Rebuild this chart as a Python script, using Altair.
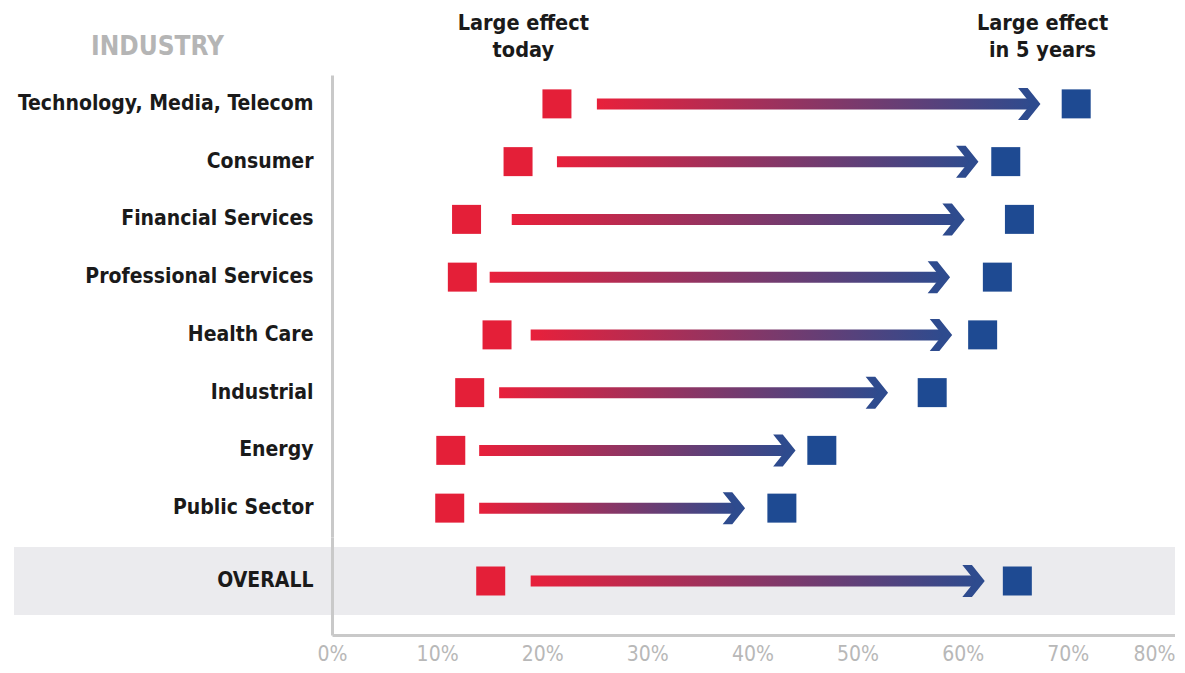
import altair as alt
import pandas as pd

# ---------------- data ----------------
industries = ["Technology, Media, Telecom", "Consumer", "Financial Services",
              "Professional Services", "Health Care", "Industrial", "Energy",
              "Public Sector"]
effect_today = [21.4, 17.7, 12.8, 12.4, 15.7, 13.1, 11.3, 11.2]
effect_5yrs = [70.8, 64.1, 65.4, 63.3, 61.9, 57.1, 46.6, 42.8]
arrow_from = [25.2, 21.4, 17.1, 15.0, 18.9, 15.9, 14.0, 14.0]
arrow_to = [67.4, 61.5, 60.2, 58.8, 59.0, 52.9, 44.1, 39.3]

overall_label = ["OVERALL"]
overall_today = [15.1]
overall_5yrs = [65.2]
overall_from = [18.9]
overall_to = [62.1]

header_text = ["Large effect\ntoday", "Large effect\nin 5 years"]
header_x = [18.2, 67.6]

x_ticks = [0, 10, 20, 30, 40, 50, 60, 70, 80]

# ---------------- styling ----------------
FONT = "Liberation Sans Narrow, DejaVu Sans Condensed, Arial Narrow, sans-serif"
RED = "#e41f38"
BLUE = "#1e4a92"
NAVY = "#2e4b8e"
GRID = "#c9c9c9"
W = 843
H_TOP = 462
H_BOT = 98
CHEVRON = "M0,0 L-0.8,-1 L-1.4,-1 L-0.6,0 L-1.4,1 L-0.8,1 Z"

gradient = alt.LinearGradient(
    gradient="linear",
    stops=[alt.GradientStop(color="#e8203b", offset=0),
           alt.GradientStop(color=NAVY, offset=1)],
    x1=0, x2=1, y1=0, y2=0,
)

x_scale = alt.Scale(domain=[0, 80.2], nice=False, zero=False)

label_axis_common = dict(
    labelFont=FONT, labelFontSize=21, labelFontWeight="bold", labelColor="#1a1a1a",
    labelPadding=19, labelLimit=400, ticks=False, domainColor=GRID, domainWidth=3,
    grid=False, zindex=1,
)


def arrow_layers(df, y, xaxis):
    shaft = alt.Chart(df).mark_bar(height=11, fill=gradient, x2Offset=-8).encode(
        x=alt.X("a0:Q", scale=x_scale, axis=xaxis), x2="a1:Q", y=y)
    head = alt.Chart(df).mark_point(shape=CHEVRON, filled=True, fill=NAVY, size=1024,
                                    opacity=1, strokeWidth=0).encode(
        x=alt.X("a1:Q", scale=x_scale, axis=xaxis), y=y)
    sq_today = alt.Chart(df).mark_square(size=841, color=RED, opacity=1).encode(
        x=alt.X("today:Q", scale=x_scale, axis=xaxis), y=y)
    sq_5 = alt.Chart(df).mark_square(size=841, color=BLUE, opacity=1).encode(
        x=alt.X("five:Q", scale=x_scale, axis=xaxis), y=y)
    return [shaft, head, sq_today, sq_5]


# ---------------- top panel: industries ----------------
df_top = pd.DataFrame({"cat": industries, "today": effect_today, "five": effect_5yrs,
                       "a0": arrow_from, "a1": arrow_to})
y_top = alt.Y("cat:N", sort=industries,
              scale=alt.Scale(domain=industries, paddingInner=0, paddingOuter=0),
              axis=alt.Axis(title="INDUSTRY", titleAngle=0, titleX=-175, titleY=-29,
                            titleAlign="center", titleBaseline="middle", titleFont=FONT,
                            titleFontSize=26, titleFontWeight="bold", titleColor="#b5b5b5",
                            **label_axis_common))

df_head = pd.DataFrame({"text": header_text, "x": header_x})
headers = alt.Chart(df_head).mark_text(
    font=FONT, fontSize=21.5, fontWeight="bold", color="#1a1a1a", lineBreak="\n",
    lineHeight=27, baseline="middle", align="center").encode(
    x=alt.X("x:Q", scale=x_scale, axis=None), y=alt.value(-50.6), text="text:N")

top = alt.layer(*arrow_layers(df_top, y_top, None), headers).properties(
    width=W, height=H_TOP)

# ---------------- bottom panel: overall ----------------
df_bot = pd.DataFrame({"cat": overall_label, "today": overall_today, "five": overall_5yrs,
                       "a0": overall_from, "a1": overall_to})
y_bot = alt.Y("cat:N",
              scale=alt.Scale(domain=overall_label, paddingInner=0, paddingOuter=0.2206,
                              align=0.3333),
              axis=alt.Axis(title=None, **label_axis_common))

band = alt.Chart(df_bot).mark_rect(color="#ebebee").encode(
    x=alt.value(-318), x2=alt.value(W), y=y_bot)

x_axis = alt.Axis(
    values=x_ticks, labelExpr="datum.value + '%'", labelFont=FONT, labelFontSize=21,
    labelColor="#b8b8b8", labelPadding=8, ticks=False, domainColor=GRID, domainWidth=3,
    grid=False, title=None, zindex=1,
    labelAlign={"condition": {"test": "datum.value == 80", "value": "right"}, "value": "center"},
    labelOffset={"condition": {"test": "datum.value == 80", "value": 2}, "value": 0},
)

bottom = alt.layer(band, *arrow_layers(df_bot, y_bot, x_axis)).properties(
    width=W, height=H_BOT)

chart = alt.vconcat(top, bottom, spacing=0).properties(
    padding={"left": 6, "top": 5, "right": 0, "bottom": 0},
    background="white",
).configure_view(stroke=None)

chart.save("out.html", embed_options={"renderer": "svg", "actions": False})
